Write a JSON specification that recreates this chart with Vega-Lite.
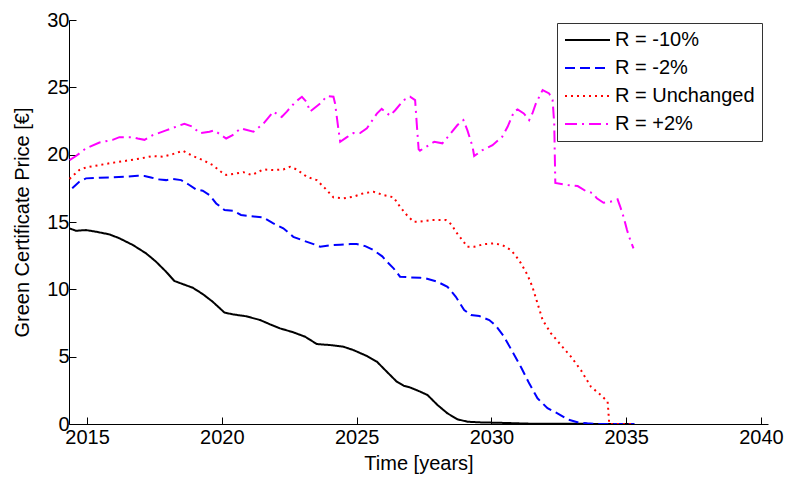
{
  "$schema": "https://vega.github.io/schema/vega-lite/v6.json",
  "width": 699,
  "height": 404,
  "autosize": {"type": "none"},
  "padding": {"left": 69, "top": 20, "right": 20, "bottom": 59},
  "background": "white",
  "config": {
    "view": {"stroke": null},
    "font": "Liberation Sans",
    "axis": {
      "grid": false,
      "domainColor": "#000",
      "domainWidth": 1,
      "tickColor": "#000",
      "tickSize": -7,
      "labelColor": "#000",
      "titleColor": "#000",
      "labelFont": "Liberation Sans",
      "titleFont": "Liberation Sans",
      "labelFontSize": 20,
      "titleFontSize": 20,
      "titleFontWeight": "normal"
    }
  },
  "data": {"values": [
    {"s":"R = -10%","t":2014.34,"p":14.53},{"s":"R = -10%","t":2014.59,"p":14.35},{"s":"R = -10%","t":2014.96,"p":14.4},{"s":"R = -10%","t":2015.33,"p":14.28},{"s":"R = -10%","t":2015.83,"p":14.08},{"s":"R = -10%","t":2016.2,"p":13.79},{"s":"R = -10%","t":2016.7,"p":13.29},{"s":"R = -10%","t":2017.19,"p":12.67},{"s":"R = -10%","t":2017.56,"p":12.05},{"s":"R = -10%","t":2017.93,"p":11.31},{"s":"R = -10%","t":2018.24,"p":10.62},{"s":"R = -10%","t":2018.55,"p":10.39},{"s":"R = -10%","t":2018.92,"p":10.12},{"s":"R = -10%","t":2019.29,"p":9.65},{"s":"R = -10%","t":2019.66,"p":9.08},{"s":"R = -10%","t":2020.1,"p":8.27},{"s":"R = -10%","t":2020.41,"p":8.14},{"s":"R = -10%","t":2020.9,"p":8.0},{"s":"R = -10%","t":2021.42,"p":7.72},{"s":"R = -10%","t":2021.79,"p":7.4},{"s":"R = -10%","t":2022.16,"p":7.1},{"s":"R = -10%","t":2022.65,"p":6.81},{"s":"R = -10%","t":2023.09,"p":6.48},{"s":"R = -10%","t":2023.52,"p":5.94},{"s":"R = -10%","t":2024.02,"p":5.86},{"s":"R = -10%","t":2024.51,"p":5.74},{"s":"R = -10%","t":2024.88,"p":5.49},{"s":"R = -10%","t":2025.38,"p":5.05},{"s":"R = -10%","t":2025.75,"p":4.63},{"s":"R = -10%","t":2026.12,"p":3.88},{"s":"R = -10%","t":2026.49,"p":3.14},{"s":"R = -10%","t":2026.74,"p":2.85},{"s":"R = -10%","t":2027.0,"p":2.7},{"s":"R = -10%","t":2027.36,"p":2.4},{"s":"R = -10%","t":2027.63,"p":2.15},{"s":"R = -10%","t":2028.0,"p":1.41},{"s":"R = -10%","t":2028.37,"p":0.79},{"s":"R = -10%","t":2028.74,"p":0.35},{"s":"R = -10%","t":2029.11,"p":0.17},{"s":"R = -10%","t":2029.61,"p":0.12},{"s":"R = -10%","t":2030.47,"p":0.08},{"s":"R = -10%","t":2031.5,"p":0.02},{"s":"R = -10%","t":2035.3,"p":0},
    {"s":"R = -2%","t":2014.45,"p":17.5},{"s":"R = -2%","t":2014.71,"p":17.99},{"s":"R = -2%","t":2014.96,"p":18.24},{"s":"R = -2%","t":2015.46,"p":18.29},{"s":"R = -2%","t":2015.95,"p":18.31},{"s":"R = -2%","t":2016.45,"p":18.36},{"s":"R = -2%","t":2016.88,"p":18.43},{"s":"R = -2%","t":2017.13,"p":18.41},{"s":"R = -2%","t":2017.37,"p":18.31},{"s":"R = -2%","t":2017.62,"p":18.17},{"s":"R = -2%","t":2017.93,"p":18.11},{"s":"R = -2%","t":2018.18,"p":18.19},{"s":"R = -2%","t":2018.49,"p":18.11},{"s":"R = -2%","t":2018.74,"p":17.82},{"s":"R = -2%","t":2019.04,"p":17.42},{"s":"R = -2%","t":2019.29,"p":17.32},{"s":"R = -2%","t":2019.54,"p":17.0},{"s":"R = -2%","t":2019.79,"p":16.38},{"s":"R = -2%","t":2020.1,"p":15.89},{"s":"R = -2%","t":2020.41,"p":15.84},{"s":"R = -2%","t":2020.71,"p":15.52},{"s":"R = -2%","t":2021.05,"p":15.44},{"s":"R = -2%","t":2021.54,"p":15.34},{"s":"R = -2%","t":2021.91,"p":14.9},{"s":"R = -2%","t":2022.28,"p":14.53},{"s":"R = -2%","t":2022.65,"p":13.9},{"s":"R = -2%","t":2023.03,"p":13.61},{"s":"R = -2%","t":2023.4,"p":13.36},{"s":"R = -2%","t":2023.65,"p":13.16},{"s":"R = -2%","t":2024.02,"p":13.27},{"s":"R = -2%","t":2024.39,"p":13.31},{"s":"R = -2%","t":2024.76,"p":13.36},{"s":"R = -2%","t":2025.0,"p":13.36},{"s":"R = -2%","t":2025.32,"p":13.21},{"s":"R = -2%","t":2025.62,"p":12.92},{"s":"R = -2%","t":2025.95,"p":12.45},{"s":"R = -2%","t":2026.15,"p":12.0},{"s":"R = -2%","t":2026.37,"p":11.56},{"s":"R = -2%","t":2026.61,"p":10.94},{"s":"R = -2%","t":2026.98,"p":10.89},{"s":"R = -2%","t":2027.36,"p":10.86},{"s":"R = -2%","t":2027.57,"p":10.81},{"s":"R = -2%","t":2028.0,"p":10.56},{"s":"R = -2%","t":2028.37,"p":10.19},{"s":"R = -2%","t":2028.68,"p":9.45},{"s":"R = -2%","t":2028.99,"p":8.46},{"s":"R = -2%","t":2029.24,"p":8.09},{"s":"R = -2%","t":2029.55,"p":8.02},{"s":"R = -2%","t":2029.92,"p":7.72},{"s":"R = -2%","t":2030.17,"p":7.28},{"s":"R = -2%","t":2030.47,"p":6.48},{"s":"R = -2%","t":2030.78,"p":5.37},{"s":"R = -2%","t":2031.09,"p":4.25},{"s":"R = -2%","t":2031.4,"p":3.02},{"s":"R = -2%","t":2031.71,"p":1.91},{"s":"R = -2%","t":2032.08,"p":1.17},{"s":"R = -2%","t":2032.45,"p":0.79},{"s":"R = -2%","t":2032.82,"p":0.35},{"s":"R = -2%","t":2033.19,"p":0.13},{"s":"R = -2%","t":2033.56,"p":0.05},{"s":"R = -2%","t":2033.93,"p":0},{"s":"R = -2%","t":2035.3,"p":0},
    {"s":"R = Unchanged","t":2014.35,"p":18.2},{"s":"R = Unchanged","t":2014.71,"p":18.86},{"s":"R = Unchanged","t":2014.96,"p":19.05},{"s":"R = Unchanged","t":2015.46,"p":19.23},{"s":"R = Unchanged","t":2015.95,"p":19.4},{"s":"R = Unchanged","t":2016.45,"p":19.55},{"s":"R = Unchanged","t":2016.94,"p":19.7},{"s":"R = Unchanged","t":2017.44,"p":19.9},{"s":"R = Unchanged","t":2017.81,"p":19.85},{"s":"R = Unchanged","t":2018.18,"p":20.04},{"s":"R = Unchanged","t":2018.55,"p":20.29},{"s":"R = Unchanged","t":2018.92,"p":19.9},{"s":"R = Unchanged","t":2019.29,"p":19.6},{"s":"R = Unchanged","t":2019.66,"p":19.23},{"s":"R = Unchanged","t":2019.97,"p":18.73},{"s":"R = Unchanged","t":2020.16,"p":18.49},{"s":"R = Unchanged","t":2020.53,"p":18.6},{"s":"R = Unchanged","t":2020.8,"p":18.7},{"s":"R = Unchanged","t":2021.11,"p":18.49},{"s":"R = Unchanged","t":2021.54,"p":18.9},{"s":"R = Unchanged","t":2021.91,"p":18.86},{"s":"R = Unchanged","t":2022.28,"p":18.9},{"s":"R = Unchanged","t":2022.53,"p":19.1},{"s":"R = Unchanged","t":2022.78,"p":18.9},{"s":"R = Unchanged","t":2023.15,"p":18.36},{"s":"R = Unchanged","t":2023.52,"p":18.11},{"s":"R = Unchanged","t":2023.83,"p":17.5},{"s":"R = Unchanged","t":2024.14,"p":16.83},{"s":"R = Unchanged","t":2024.51,"p":16.76},{"s":"R = Unchanged","t":2024.88,"p":16.88},{"s":"R = Unchanged","t":2025.25,"p":17.13},{"s":"R = Unchanged","t":2025.62,"p":17.25},{"s":"R = Unchanged","t":2025.99,"p":17.0},{"s":"R = Unchanged","t":2026.37,"p":16.83},{"s":"R = Unchanged","t":2026.61,"p":16.13},{"s":"R = Unchanged","t":2026.86,"p":15.52},{"s":"R = Unchanged","t":2027.11,"p":15.02},{"s":"R = Unchanged","t":2027.32,"p":15.02},{"s":"R = Unchanged","t":2027.75,"p":15.14},{"s":"R = Unchanged","t":2028.31,"p":15.14},{"s":"R = Unchanged","t":2028.52,"p":14.82},{"s":"R = Unchanged","t":2028.68,"p":14.28},{"s":"R = Unchanged","t":2028.87,"p":13.79},{"s":"R = Unchanged","t":2029.11,"p":13.16},{"s":"R = Unchanged","t":2029.36,"p":13.16},{"s":"R = Unchanged","t":2029.73,"p":13.36},{"s":"R = Unchanged","t":2030.1,"p":13.41},{"s":"R = Unchanged","t":2030.41,"p":13.29},{"s":"R = Unchanged","t":2030.72,"p":12.92},{"s":"R = Unchanged","t":2030.9,"p":12.5},{"s":"R = Unchanged","t":2031.09,"p":11.95},{"s":"R = Unchanged","t":2031.34,"p":11.06},{"s":"R = Unchanged","t":2031.52,"p":10.19},{"s":"R = Unchanged","t":2031.71,"p":8.96},{"s":"R = Unchanged","t":2031.9,"p":7.72},{"s":"R = Unchanged","t":2032.21,"p":6.73},{"s":"R = Unchanged","t":2032.58,"p":5.86},{"s":"R = Unchanged","t":2032.95,"p":5.0},{"s":"R = Unchanged","t":2033.32,"p":4.0},{"s":"R = Unchanged","t":2033.69,"p":2.77},{"s":"R = Unchanged","t":2034.06,"p":2.15},{"s":"R = Unchanged","t":2034.31,"p":1.66},{"s":"R = Unchanged","t":2034.34,"p":0.9},{"s":"R = Unchanged","t":2034.37,"p":0},{"s":"R = Unchanged","t":2035.3,"p":0},
    {"s":"R = +2%","t":2014.35,"p":19.6},{"s":"R = +2%","t":2014.59,"p":19.9},{"s":"R = +2%","t":2014.96,"p":20.47},{"s":"R = +2%","t":2015.46,"p":20.9},{"s":"R = +2%","t":2015.95,"p":21.1},{"s":"R = +2%","t":2016.2,"p":21.3},{"s":"R = +2%","t":2016.7,"p":21.3},{"s":"R = +2%","t":2016.88,"p":21.2},{"s":"R = +2%","t":2017.13,"p":21.1},{"s":"R = +2%","t":2017.44,"p":21.45},{"s":"R = +2%","t":2017.93,"p":21.8},{"s":"R = +2%","t":2018.3,"p":22.07},{"s":"R = +2%","t":2018.61,"p":22.3},{"s":"R = +2%","t":2018.92,"p":22.07},{"s":"R = +2%","t":2019.17,"p":21.6},{"s":"R = +2%","t":2019.54,"p":21.7},{"s":"R = +2%","t":2019.72,"p":21.8},{"s":"R = +2%","t":2020.16,"p":21.2},{"s":"R = +2%","t":2020.4,"p":21.45},{"s":"R = +2%","t":2020.7,"p":21.95},{"s":"R = +2%","t":2021.17,"p":21.7},{"s":"R = +2%","t":2021.54,"p":22.3},{"s":"R = +2%","t":2021.91,"p":23.2},{"s":"R = +2%","t":2022.22,"p":22.8},{"s":"R = +2%","t":2022.41,"p":23.2},{"s":"R = +2%","t":2022.72,"p":23.9},{"s":"R = +2%","t":2022.97,"p":24.3},{"s":"R = +2%","t":2023.15,"p":23.9},{"s":"R = +2%","t":2023.27,"p":23.2},{"s":"R = +2%","t":2023.65,"p":23.8},{"s":"R = +2%","t":2023.9,"p":24.35},{"s":"R = +2%","t":2024.14,"p":24.3},{"s":"R = +2%","t":2024.2,"p":23.8},{"s":"R = +2%","t":2024.33,"p":21.8},{"s":"R = +2%","t":2024.39,"p":20.96},{"s":"R = +2%","t":2024.64,"p":21.3},{"s":"R = +2%","t":2024.88,"p":21.6},{"s":"R = +2%","t":2025.13,"p":21.6},{"s":"R = +2%","t":2025.38,"p":21.95},{"s":"R = +2%","t":2025.75,"p":23.05},{"s":"R = +2%","t":2025.93,"p":23.4},{"s":"R = +2%","t":2026.24,"p":22.9},{"s":"R = +2%","t":2026.43,"p":23.3},{"s":"R = +2%","t":2026.74,"p":24.05},{"s":"R = +2%","t":2026.98,"p":24.3},{"s":"R = +2%","t":2027.17,"p":24.05},{"s":"R = +2%","t":2027.23,"p":22.3},{"s":"R = +2%","t":2027.3,"p":20.4},{"s":"R = +2%","t":2027.35,"p":20.3},{"s":"R = +2%","t":2027.88,"p":20.96},{"s":"R = +2%","t":2028.18,"p":20.84},{"s":"R = +2%","t":2028.5,"p":21.6},{"s":"R = +2%","t":2028.74,"p":22.2},{"s":"R = +2%","t":2028.96,"p":22.57},{"s":"R = +2%","t":2029.11,"p":21.8},{"s":"R = +2%","t":2029.3,"p":20.6},{"s":"R = +2%","t":2029.36,"p":19.9},{"s":"R = +2%","t":2029.67,"p":20.34},{"s":"R = +2%","t":2030.04,"p":20.7},{"s":"R = +2%","t":2030.4,"p":21.33},{"s":"R = +2%","t":2030.6,"p":22.07},{"s":"R = +2%","t":2030.84,"p":23.2},{"s":"R = +2%","t":2030.97,"p":23.36},{"s":"R = +2%","t":2031.2,"p":23.06},{"s":"R = +2%","t":2031.4,"p":22.57},{"s":"R = +2%","t":2031.52,"p":23.06},{"s":"R = +2%","t":2031.65,"p":23.8},{"s":"R = +2%","t":2031.9,"p":24.8},{"s":"R = +2%","t":2032.14,"p":24.55},{"s":"R = +2%","t":2032.27,"p":24.05},{"s":"R = +2%","t":2032.33,"p":22.3},{"s":"R = +2%","t":2032.37,"p":17.9},{"s":"R = +2%","t":2032.82,"p":17.74},{"s":"R = +2%","t":2033.2,"p":17.67},{"s":"R = +2%","t":2033.5,"p":17.3},{"s":"R = +2%","t":2033.75,"p":17.15},{"s":"R = +2%","t":2033.91,"p":16.76},{"s":"R = +2%","t":2034.16,"p":16.43},{"s":"R = +2%","t":2034.41,"p":16.5},{"s":"R = +2%","t":2034.68,"p":16.68},{"s":"R = +2%","t":2034.78,"p":16.13},{"s":"R = +2%","t":2034.9,"p":15.39},{"s":"R = +2%","t":2035.03,"p":14.4},{"s":"R = +2%","t":2035.15,"p":13.66},{"s":"R = +2%","t":2035.27,"p":13.04}
  ]},
  "mark": {"type": "line", "strokeWidth": 2, "clip": true},
  "encoding": {
    "x": {
      "field": "t", "type": "quantitative",
      "scale": {"domain": [2014.33, 2040.26], "nice": false, "zero": false},
      "axis": {"values": [2015, 2020, 2025, 2030, 2035, 2040], "format": "d", "title": "Time [years]", "labelPadding": 10, "titlePadding": 6}
    },
    "y": {
      "field": "p", "type": "quantitative",
      "scale": {"domain": [0, 30], "nice": false},
      "axis": {"values": [0, 5, 10, 15, 20, 25, 30], "title": "Green Certificate Price [€]", "labelPadding": 7, "titlePadding": 14}
    },
    "color": {
      "field": "s", "type": "nominal",
      "scale": {"domain": ["R = -10%", "R = -2%", "R = Unchanged", "R = +2%"], "range": ["#000000", "#0000FF", "#FF0000", "#FF00FF"]},
      "legend": {
        "title": null, "orient": "none", "legendX": 488, "legendY": 3,
        "strokeColor": "#333", "fillColor": "white", "padding": 7,
        "symbolType": "stroke", "symbolSize": 2025, "symbolStrokeWidth": 2,
        "labelFontSize": 20, "labelFont": "Liberation Sans", "labelColor": "#000", "labelOffset": 4,
        "clipHeight": 20, "rowPadding": 8
      }
    },
    "strokeDash": {
      "field": "s", "type": "nominal",
      "scale": {"domain": ["R = -10%", "R = -2%", "R = Unchanged", "R = +2%"], "range": [[1, 0], [10, 5], [2, 4], [12, 5, 2, 5]]},
      "legend": {
        "title": null, "orient": "none", "legendX": 488, "legendY": 3,
        "strokeColor": "#333", "fillColor": "white", "padding": 7,
        "symbolType": "stroke", "symbolSize": 2025, "symbolStrokeWidth": 2,
        "labelFontSize": 20, "labelFont": "Liberation Sans", "labelColor": "#000", "labelOffset": 4,
        "clipHeight": 20, "rowPadding": 8
      }
    },
    "order": {"field": "t", "type": "quantitative"}
  }
}
